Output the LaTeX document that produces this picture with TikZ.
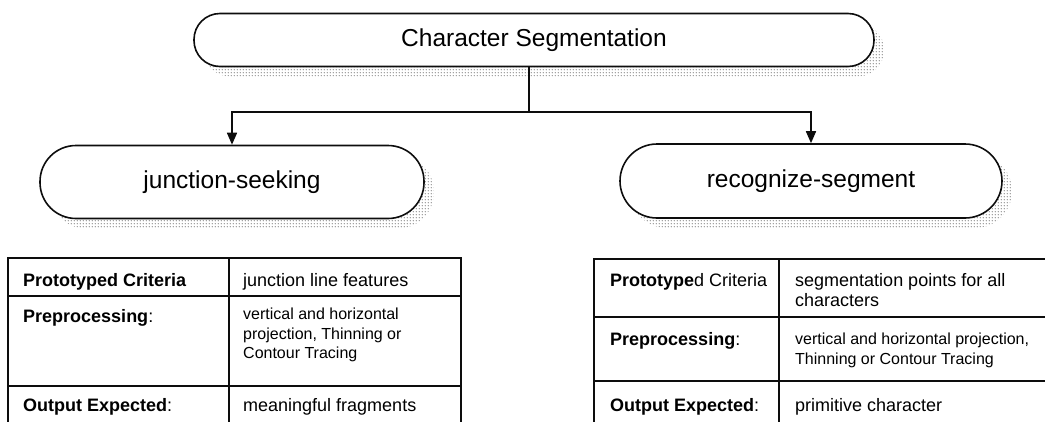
\documentclass[tikz,border=0pt]{standalone}
\usepackage{fontspec}
\setmainfont{Liberation Sans}
\usetikzlibrary{arrows.meta, positioning, shadows, patterns.meta, calc}
\definecolor{mainBlack}{gray}{0.05}
\definecolor{shadowGray}{gray}{0.5}

\tikzdeclarepattern{
  name=halftone,
  type=uncolored,
  bounding box={(-1.6pt,-1.6pt) and (1.6pt,1.6pt)},
  tile size={(3.2pt,3.2pt)},
  code={\pgfpathcircle{\pgfpointorigin}{0.8pt}\pgfusepath{fill}}
}

\tikzset{
  pill/.style={draw=mainBlack, line width=1.6pt, fill=white, rounded corners=#1,
    font=\fontsize{24.5}{28}\selectfont,
    drop shadow={shadow xshift=10pt, shadow yshift=-10pt, opacity=1,
      fill=none, pattern=halftone, pattern color=shadowGray}},
  cell/.style={anchor=north west, inner sep=0pt, align=left,
    font=\fontsize{18}{20.5}\selectfont},
  smallcell/.style={cell, font=\fontsize{16}{19.5}\selectfont},
  grid/.style={line width=2pt, mainBlack},
  arr/.style={line width=1.6pt, mainBlack, -{Triangle[width=10pt,length=12pt]}},
}

\begin{document}
\begin{tikzpicture}[x=1pt, y=-1pt]
    \path[use as bounding box] (0,0) rectangle (1045,421);
    \clip (0,0) rectangle (1045,421);

    % boxes
    \node[pill=26pt, minimum width=680pt, minimum height=53pt] (title) at (534,40) {Character Segmentation};
    \node[pill=36pt, minimum width=384pt, minimum height=73pt] (junction) at (232,182) {junction-seeking};
    \node[pill=37pt, minimum width=382pt, minimum height=74pt] (recognize) at (811,181) {recognize-segment};

    % branches
    \coordinate (split) at (529,112);
    \draw[line width=1.6pt, mainBlack] (title.south -| split) -- (split);
    \draw[arr] (split) -| (junction.north);
    \draw[arr] (split) -| (recognize.north);

    % Table A: junction-seeking
    \begin{scope}
        \draw[grid] (8,430) |- (461,258) -- (461,430);
        \draw[grid] (229,258) -- (229,430);
        \draw[grid] (8,296) -- (461,296);
        \draw[grid] (8,386) -- (461,386);

        \node[cell] (critA) at (23,273) {\textbf{Prototyped Criteria}};
        \node[cell] (critAval) at (243,273) {junction line features};
        \node[cell] (preA) at (23,309) {\textbf{Preprocessing}:};
        \node[smallcell] (preAval) at (243,308) {vertical and horizontal\\projection, Thinning or\\Contour Tracing};
        \node[cell] (outA) at (23,398) {\textbf{Output Expected}:};
        \node[cell] (outAval) at (243,398) {meaningful fragments};
    \end{scope}

    % Table B: recognize-segment
    \begin{scope}
        \draw[grid] (594,430) |- (1060,259);
        \draw[grid] (779,259) -- (779,430);
        \draw[grid] (594,317) -- (1060,317);
        \draw[grid] (594,381) -- (1060,381);

        \node[cell] (critB) at (610,273) {\textbf{Prototype}d Criteria};
        \node[cell] (critBval) at (795,273) {segmentation points for all\\characters};
        \node[cell] (preB) at (610,332) {\textbf{Preprocessing}:};
        \node[smallcell] (preBval) at (795,333) {vertical and horizontal projection,\\Thinning or Contour Tracing};
        \node[cell] (outB) at (610,398) {\textbf{Output Expected}:};
        \node[cell] (outBval) at (795,398) {primitive character};
    \end{scope}
\end{tikzpicture}
\end{document}
